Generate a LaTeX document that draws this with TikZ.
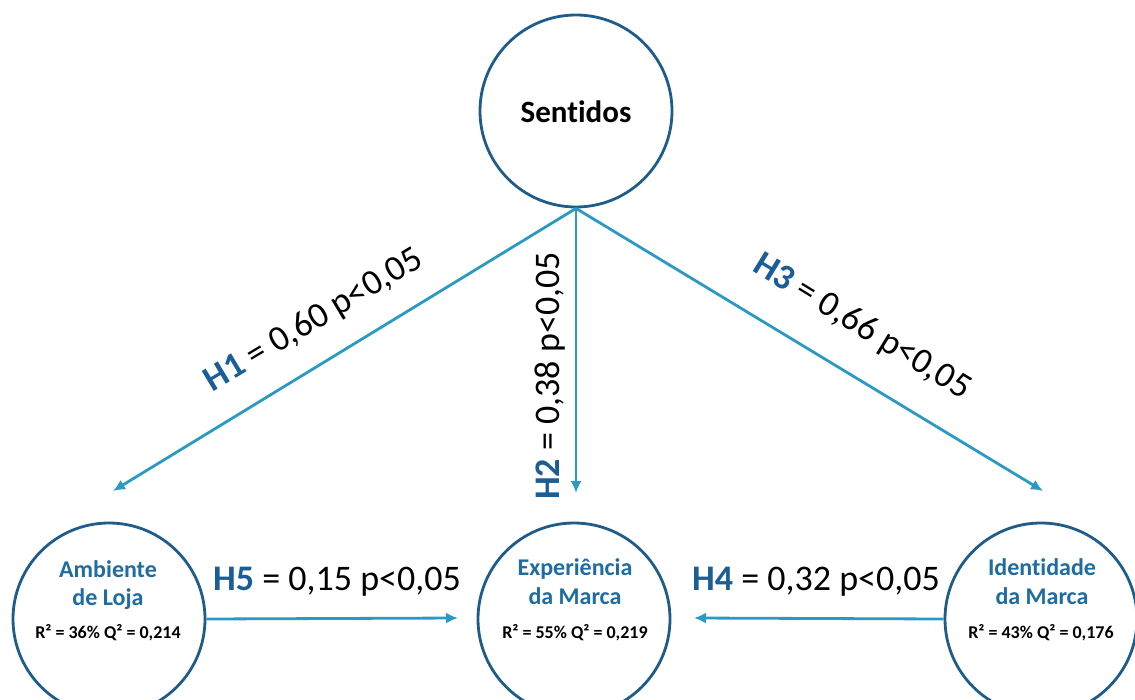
\documentclass[tikz,border=0pt]{standalone}
\usepackage{fontspec}
\setmainfont{Carlito}[Ligatures={NoCommon}]
\usetikzlibrary{arrows.meta}
\definecolor{ringc}{HTML}{1F5C8A}
\definecolor{arrc}{HTML}{2A9AC5}
\definecolor{hlab}{HTML}{1B5E96}
\definecolor{titc}{HTML}{1E6CA0}
\tikzset{
  ring/.style={circle, draw=ringc, line width=2.8pt, minimum size=192pt, inner sep=0pt},
  conn/.style={draw=arrc, line width=2.8pt, -{Latex[length=12pt,width=11pt]}},
  hyp/.style={font=\fontsize{36}{40}\selectfont, inner sep=0pt},
  ttl/.style={font=\fontsize{24}{28}\selectfont\bfseries, text=titc, anchor=base, inner sep=0pt},
  stat/.style={font=\fontsize{18}{22}\selectfont\bfseries, text=black, anchor=base, inner sep=0pt},
}
\begin{document}
\begin{tikzpicture}[x=1pt,y=-1pt]
\useasboundingbox[fill=white] (0,0) rectangle (1135,699);
% circles
\node[ring] (sent) at (576,111) {};
\node[ring] (amb) at (109,619) {};
\node[ring] (exp) at (574,619) {};
\node[ring] (ide) at (1041,619) {};
% texts inside
\node[font=\fontsize{31}{36}\selectfont\bfseries, anchor=base, inner sep=0pt] (sentt) at (576,122) {Sentidos};
\node[ttl] (amb1) at (108,577) {Ambiente};
\node[ttl] (amb2) at (108,605) {de Loja};
\node[stat] (amb3) at (108,638) {R² = 36\% Q² = 0,214};
\node[ttl] (exp1) at (575,575) {Experiência};
\node[ttl] (exp2) at (575,604) {da Marca};
\node[stat] (exp3) at (575,638) {R² = 55\% Q² = 0,219};
\node[ttl] (ide1) at (1042,575) {Identidade};
\node[ttl] (ide2) at (1042,604) {da Marca};
\node[stat] (ide3) at (1041,638) {R² = 43\% Q² = 0,176};
% arrow ends
\coordinate (t1) at (113,491);
\coordinate (t2) at (576,493);
\coordinate (t3) at (1043,491);
\coordinate (t5) at (458,618);
\coordinate (t4) at (694,618);
\draw[conn] (sent.south) -- (t1);
\draw[conn] (sent.south) -- (t2);
\draw[conn] (sent.south) -- (t3);
\draw[conn] (amb.east) -- (t5);
\draw[conn] (ide.west) -- (t4);
% labels
\node[hyp, rotate=31] (h1) at (314,321) {\textbf{\textcolor{hlab}{H1}} = 0,60 p<0,05};
\node[hyp, rotate=90] (h2) at (550,376) {\textbf{\textcolor{hlab}{H2}} = 0,38 p<0,05};
\node[hyp, rotate=-31.5] (h3) at (862,327) {\textbf{\textcolor{hlab}{H3}} = 0,66 p<0,05};
\node[hyp, anchor=base] (h5) at (337,590) {\textbf{\textcolor{hlab}{H5}} = 0,15 p<0,05};
\node[hyp, anchor=base] (h4) at (816,590) {\textbf{\textcolor{hlab}{H4}} = 0,32 p<0,05};
\end{tikzpicture}
\end{document}
